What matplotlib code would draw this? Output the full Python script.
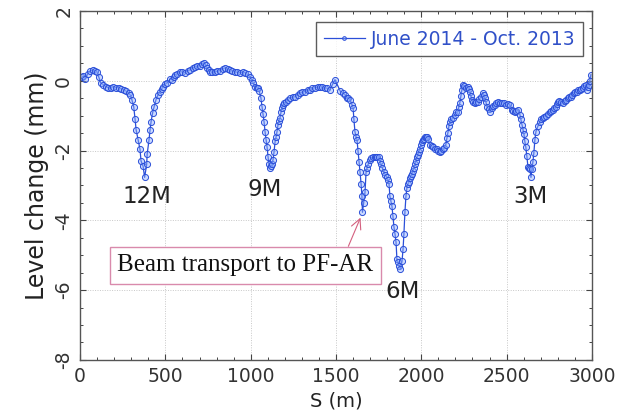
import matplotlib
matplotlib.use("Agg")
import matplotlib.pyplot as plt
from matplotlib.ticker import MultipleLocator

plt.rcParams["axes.unicode_minus"] = False

s_m = [10, 18, 30, 45, 60, 75, 90, 100, 110, 120, 135, 150, 165, 180, 195, 210, 225, 240, 255, 270, 285, 295,
       303, 314, 322, 328, 340, 351, 357, 369, 378, 390, 393, 404, 410, 416, 425, 434, 445, 457, 469, 478, 486,
       498, 510, 527, 539, 550, 557, 570, 586, 600, 615, 630, 644, 660, 674, 688, 703, 715, 726, 735, 744, 753,
       762, 775, 791, 805, 820, 835, 850, 865, 879, 893, 908, 922, 937, 952, 967, 982, 996, 1005, 1014, 1025,
       1035, 1043, 1050, 1060, 1066, 1072, 1078, 1084, 1090, 1096, 1102, 1107, 1113, 1119, 1125, 1131, 1137,
       1143, 1149, 1154, 1160, 1166, 1172, 1178, 1183, 1189, 1198, 1207, 1218, 1230, 1245, 1260, 1275, 1289,
       1303, 1318, 1333, 1348, 1362, 1377, 1392, 1406, 1420, 1435, 1450, 1465, 1480, 1494, 1525, 1540, 1553,
       1564, 1573, 1582, 1594, 1600, 1605, 1611, 1617, 1623, 1629, 1635, 1641, 1647, 1652, 1655, 1662, 1670,
       1676, 1682, 1688, 1699, 1708, 1717, 1726, 1734, 1743, 1752, 1758, 1764, 1772, 1781, 1790, 1799, 1805,
       1811, 1816, 1822, 1828, 1834, 1840, 1846, 1852, 1857, 1863, 1870, 1878, 1887, 1893, 1898, 1904, 1910,
       1916, 1922, 1928, 1934, 1939, 1945, 1951, 1957, 1963, 1969, 1975, 1981, 1986, 1992, 1998, 2004, 2010,
       2016, 2021, 2027, 2033, 2040, 2051, 2060, 2068, 2080, 2092, 2100, 2109, 2118, 2127, 2135, 2144, 2150,
       2156, 2162, 2168, 2177, 2186, 2195, 2203, 2215, 2220, 2226, 2232, 2238, 2244, 2253, 2262, 2273, 2280,
       2285, 2291, 2297, 2305, 2314, 2323, 2332, 2341, 2350, 2361, 2367, 2373, 2379, 2385, 2394, 2402, 2414,
       2423, 2432, 2440, 2449, 2461, 2473, 2485, 2496, 2508, 2520, 2531, 2540, 2549, 2558, 2566, 2578, 2584,
       2590, 2596, 2602, 2607, 2613, 2619, 2625, 2631, 2637, 2643, 2648, 2654, 2660, 2666, 2672, 2683, 2695,
       2704, 2713, 2722, 2730, 2742, 2754, 2762, 2771, 2780, 2789, 2795, 2801, 2810, 2818, 2830, 2840, 2848,
       2859, 2868, 2877, 2886, 2894, 2903, 2912, 2921, 2930, 2938, 2947, 2956, 2965, 2971, 2976, 2982, 2988,
       2994]
level_mm = [0.1, 0.14, 0.06, 0.2, 0.29, 0.3, 0.29, 0.25, 0.1, -0.06, -0.11, -0.17, -0.2, -0.2, -0.17, -0.2,
            -0.2, -0.23, -0.26, -0.3, -0.35, -0.42, -0.54, -0.74, -1.1, -1.4, -1.69, -1.97, -2.3, -2.45, -2.77,
            -2.4, -2.1, -1.69, -1.4, -1.17, -0.92, -0.74, -0.54, -0.4, -0.31, -0.24, -0.17, -0.1, -0.06, 0.04,
            0.03, 0.12, 0.17, 0.2, 0.26, 0.25, 0.23, 0.28, 0.31, 0.36, 0.4, 0.42, 0.43, 0.47, 0.51, 0.45, 0.37,
            0.3, 0.26, 0.25, 0.26, 0.27, 0.29, 0.33, 0.37, 0.33, 0.31, 0.28, 0.26, 0.24, 0.23, 0.24, 0.23, 0.18,
            0.11, 0.03, -0.06, -0.17, -0.2, -0.2, -0.3, -0.5, -0.74, -0.95, -1.17, -1.46, -1.69, -1.91, -2.2,
            -2.4, -2.51, -2.45, -2.4, -2.26, -2.03, -1.74, -1.6, -1.46, -1.26, -1.15, -1.06, -0.89, -0.78, -0.69,
            -0.64, -0.6, -0.55, -0.49, -0.47, -0.46, -0.4, -0.34, -0.33, -0.31, -0.28, -0.26, -0.22, -0.2, -0.19,
            -0.17, -0.19, -0.2, -0.22, -0.26, -0.1, 0.03, -0.3, -0.35, -0.4, -0.49, -0.5, -0.54, -0.69, -0.77,
            -1.11, -1.46, -1.6, -1.69, -2.0, -2.34, -2.63, -2.95, -3.31, -3.77, -3.5, -3.2, -2.63, -2.5, -2.4,
            -2.26, -2.22, -2.2, -2.2, -2.2, -2.2, -2.2, -2.3, -2.4, -2.5, -2.63, -2.7, -2.77, -2.85, -2.97, -3.31,
            -3.45, -3.6, -3.89, -4.2, -4.4, -4.63, -5.11, -5.2, -5.3, -5.4, -5.17, -4.83, -4.4, -3.77, -3.31,
            -3.06, -2.97, -2.89, -2.8, -2.74, -2.67, -2.6, -2.5, -2.4, -2.3, -2.2, -2.12, -2.03, -1.95, -1.83,
            -1.76, -1.69, -1.66, -1.62, -1.6, -1.6, -1.68, -1.83, -1.88, -1.91, -1.95, -1.97, -2.0, -2.03, -2.0,
            -1.97, -1.92, -1.83, -1.65, -1.49, -1.3, -1.17, -1.1, -1.06, -0.98, -0.91, -0.89, -0.75, -0.63,
            -0.45, -0.26, -0.11, -0.15, -0.2, -0.17, -0.25, -0.31, -0.45, -0.54, -0.6, -0.63, -0.62, -0.6, -0.52,
            -0.46, -0.34, -0.4, -0.49, -0.62, -0.74, -0.82, -0.89, -0.77, -0.72, -0.69, -0.64, -0.6, -0.65,
            -0.63, -0.64, -0.69, -0.66, -0.69, -0.83, -0.86, -0.89, -0.86, -0.83, -0.97, -1.11, -1.26, -1.4,
            -1.54, -1.74, -1.91, -2.17, -2.46, -2.5, -2.54, -2.77, -2.54, -2.34, -2.06, -1.69, -1.46, -1.31,
            -1.17, -1.1, -1.06, -1.03, -1.0, -0.95, -0.91, -0.87, -0.83, -0.78, -0.74, -0.66, -0.6, -0.58, -0.6,
            -0.63, -0.58, -0.54, -0.49, -0.47, -0.46, -0.4, -0.34, -0.33, -0.31, -0.28, -0.26, -0.23, -0.2,
            -0.15, -0.11, -0.26, -0.18, -0.11, 0.0, 0.17]

series_label = "June 2014 - Oct. 2013"
dip_labels = ["12M", "9M", "6M", "3M"]
dip_label_x = [393, 1084, 1893, 2637]
dip_label_y = [-3.31, -3.11, -6.03, -3.31]
note_text = "Beam transport to PF-AR"

line_color = "#2b4fd8"

fig = plt.figure(figsize=(6.31, 4.19), dpi=100)
ax = fig.add_axes([0.127, 0.141, 0.811, 0.833])

ax.plot(s_m, level_mm, color=line_color, lw=0.9, marker="o", markersize=4.4,
        markerfacecolor=(0.55, 0.68, 1.0, 0.45), markeredgecolor=line_color,
        markeredgewidth=0.7, label=series_label)

ax.set_xlim(0, 3000)
ax.set_ylim(-8, 2)
ax.xaxis.set_major_locator(MultipleLocator(500))
ax.xaxis.set_minor_locator(MultipleLocator(100))
ax.yaxis.set_major_locator(MultipleLocator(2))
ax.yaxis.set_minor_locator(MultipleLocator(0.5))
ax.tick_params(which="both", direction="in", top=True, right=True, color="#444444")
ax.tick_params(which="major", length=4, width=0.8)
ax.tick_params(which="minor", length=2.5, width=0.7)
ax.tick_params(axis="both", labelsize=13.5, labelcolor="#333333", pad=5)
for lab in ax.get_yticklabels():
    lab.set_rotation(90)
    lab.set_va("center")
ax.grid(True, which="major", color="#c8c8c8", lw=0.7, ls=(0, (1, 1.5)))
for sp in ax.spines.values():
    sp.set_color("#555555")
    sp.set_linewidth(1.0)

ax.set_xlabel("S (m)", fontsize=14, color="#222222", labelpad=4)
ax.set_ylabel("Level change (mm)", fontsize=17, color="#222222", labelpad=4)

for t, x, y in zip(dip_labels, dip_label_x, dip_label_y):
    ax.text(x, y, t, fontsize=16.5, color="#222222", ha="center", va="center")

ax.annotate(note_text, xy=(1650, -3.85), xytext=(967, -5.29),
            fontsize=18, family="Liberation Serif", color="#111111", ha="center", va="center",
            bbox=dict(boxstyle="square,pad=0.3", fc="white", ec="#d98aac", lw=1.0),
            arrowprops=dict(arrowstyle="->", color="#d4607f", lw=0.8, shrinkA=0, shrinkB=2,
                            relpos=(0.89, 1.0)))

leg = ax.legend(loc="upper right", bbox_to_anchor=(0.982, 0.968), borderaxespad=0, fontsize=13.5,
                frameon=True, fancybox=False, edgecolor="#333333", handlelength=2.2, borderpad=0.4,
                handletextpad=0.3, markerscale=0.6)
leg.get_frame().set_linewidth(1.0)
for txt in leg.get_texts():
    txt.set_color("#3050c8")

fig.savefig("out.png", dpi=100)
